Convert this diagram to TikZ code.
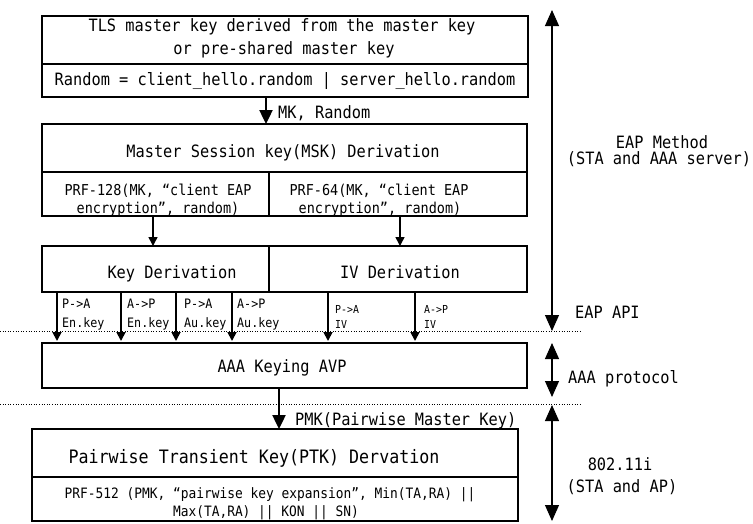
\documentclass[tikz,border=0pt]{standalone}
\usepackage{fontspec}
\newfontfamily\dm[FakeStretch=0.9]{DejaVu Sans Mono}
\usetikzlibrary{arrows.meta}
\begin{document}
\begin{tikzpicture}[x=1pt,y=-1pt,
 cell/.style={draw, line width=1.3pt, inner sep=0pt, outer sep=0pt, anchor=north west},
 tmain/.style={inner sep=0pt, anchor=base, font=\dm\fontsize{17}{20}\selectfont},
 tsub/.style={inner sep=0pt, anchor=base, font=\dm\fontsize{15}{18}\selectfont},
 tlab/.style={inner sep=0pt, anchor=base west, font=\dm\fontsize{13}{15}\selectfont},
 tiv/.style={inner sep=0pt, anchor=base west, font=\dm\fontsize{11}{13}\selectfont},
 bigarrow/.style={line width=2.4pt, -{Triangle[length=14pt,width=13pt]}},
 smallarrow/.style={line width=1.8pt, -{Triangle[length=9pt,width=9pt]}},
 sidearrow/.style={line width=1.1pt, {Triangle[length=16pt,width=14pt]}-{Triangle[length=16pt,width=14pt]}},
 layersep/.style={line width=1pt, dash pattern=on 1pt off 1.6pt}]
\useasboundingbox (0,0) rectangle (753,523);

% ---------- texts ----------
\node[tmain] (t1a) at (282,31) {TLS master key derived from the master key};
\node[tmain] (t1b) at (284,54) {or pre-shared master key};
\node[tmain] (t1c) at (285,85) {Random = client\_hello.random | server\_hello.random};
\node[tmain, anchor=base west] (mkr) at (278,118) {MK, Random};
\node[tmain] (t2a) at (283,157) {Master Session key(MSK) Derivation};
\node[tsub] (t2l1) at (158,195) {PRF-128(MK, “client EAP};
\node[tsub] (t2l2) at (158,213) {encryption”, random)};
\node[tsub] (t2r1) at (379,195) {PRF-64(MK, “client EAP};
\node[tsub] (t2r2) at (380,213) {encryption”, random)};
\node[tmain] (t3l) at (172,278) {Key Derivation};
\node[tmain] (t3r) at (400,278) {IV Derivation};

\node[tlab] (l1a) at (62,308) {P->A};
\node[tlab] (l1b) at (62,327) {En.key};
\node[tlab] (l2a) at (127,308) {A->P};
\node[tlab] (l2b) at (127,327) {En.key};
\node[tlab] (l3a) at (184,308) {P->A};
\node[tlab] (l3b) at (184,327) {Au.key};
\node[tlab] (l4a) at (237,308) {A->P};
\node[tlab] (l4b) at (237,327) {Au.key};
\node[tiv] (l5a) at (335,313) {P->A};
\node[tiv] (l5b) at (335,328) {IV};
\node[tiv] (l6a) at (424,313) {A->P};
\node[tiv] (l6b) at (424,328) {IV};

\node[tmain] (t4) at (282,372) {AAA Keying AVP};
\node[tmain, anchor=base west] (pmk) at (295,425) {PMK(Pairwise Master Key)};
\node[tmain, font=\dm\fontsize{18.5}{20}\selectfont] (t5a) at (254,463) {Pairwise Transient Key(PTK) Dervation};
\node[tsub, font=\dm\fontsize{14.3}{18}\selectfont] (t5b1) at (270,498) {PRF-512 (PMK, “pairwise key expansion”, Min(TA,RA) ||};
\node[tsub, font=\dm\fontsize{14.3}{18}\selectfont] (t5b2) at (266,516) {Max(TA,RA) || KON || SN)};

\node[tmain] (r1a) at (662,148) {EAP Method};
\node[tmain] (r1b) at (659,164) {(STA and AAA server)};
\node[tmain, anchor=base west] (r2) at (575,318) {EAP API};
\node[tmain, anchor=base west] (r3) at (568,383) {AAA protocol};
\node[tmain] (r4a) at (620,470) {802.11i};
\node[tmain] (r4b) at (622,492) {(STA and AP)};

% ---------- cells ----------
\node[cell, minimum width=486pt, minimum height=48pt] (tlsA) at (42,16) {};
\node[cell, minimum width=486pt, minimum height=33pt] (tlsB) at (42,64) {};
\node[cell, minimum width=485pt, minimum height=48pt] (mskA) at (42,124) {};
\node[cell, minimum width=227pt, minimum height=44pt] (mskL) at (42,172) {};
\node[cell, minimum width=258pt, minimum height=44pt] (mskR) at (269,172) {};
\node[cell, minimum width=227pt, minimum height=46pt] (keyL) at (42,246) {};
\node[cell, minimum width=258pt, minimum height=46pt] (keyR) at (269,246) {};
\node[cell, minimum width=485pt, minimum height=45pt] (aaa) at (42,343) {};
\node[cell, minimum width=486pt, minimum height=48pt] (ptkA) at (32,429) {};
\node[cell, minimum width=486pt, minimum height=44pt] (ptkB) at (32,477) {};

% ---------- helper coordinates ----------
\coordinate (xa) at (266,0);
\coordinate (xb) at (153,0);
\coordinate (xc) at (400,0);
\coordinate (k1) at (57,0);
\coordinate (k2) at (121,0);
\coordinate (k3) at (176,0);
\coordinate (k4) at (232,0);
\coordinate (k5) at (328,0);
\coordinate (k6) at (415,0);
\coordinate (xp) at (279,0);
\coordinate (s1a) at (0,331);
\coordinate (s1b) at (582,331);
\coordinate (s2a) at (0,404);
\coordinate (s2b) at (582,404);
\coordinate (v1) at (552,10);
\coordinate (v2) at (552,331);
\coordinate (v3) at (552,343);
\coordinate (v4) at (552,397);
\coordinate (v5) at (552,405);
\coordinate (v6) at (552,521);

% ---------- separators ----------
\draw[layersep] (s1a) -- (s1b);
\draw[layersep] (s2a) -- (s2b);

% ---------- connectors ----------
\draw[bigarrow] (tlsB.south -| xa) -- (mskA.north -| xa);
\draw[smallarrow, line width=1.6pt] (mskL.south -| xb) -- (keyL.north -| xb);
\draw[smallarrow, line width=1.6pt] (mskR.south -| xc) -- (keyR.north -| xc);
\foreach \k in {k1,k2,k3,k4}
  \draw[smallarrow, shorten >=2pt] (keyL.south -| \k) -- (aaa.north -| \k);
\foreach \k in {k5,k6}
  \draw[smallarrow, shorten >=2pt] (keyR.south -| \k) -- (aaa.north -| \k);
\draw[bigarrow] (aaa.south -| xp) -- (ptkA.north -| xp);

\draw[sidearrow] (v1) -- (v2);
\draw[sidearrow] (v3) -- (v4);
\draw[sidearrow] (v5) -- (v6);
\end{tikzpicture}
\end{document}
